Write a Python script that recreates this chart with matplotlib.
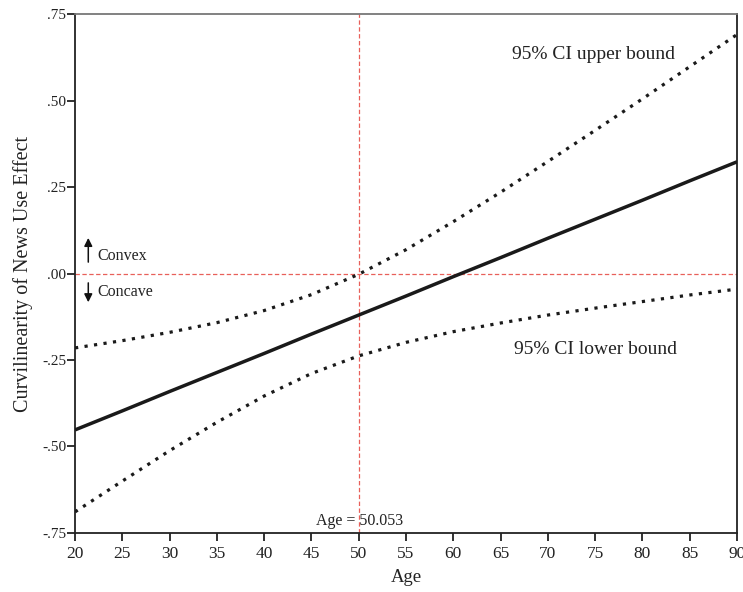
import numpy as np
import matplotlib
matplotlib.use("Agg")
import matplotlib.pyplot as plt

plt.rcParams["font.family"] = ["Liberation Serif", "DejaVu Serif"]

# ---------------------------------------------------------------------
# Data
# ---------------------------------------------------------------------
age = [20, 25, 30, 35, 40, 45, 50, 55, 60, 65, 70, 75, 80, 85, 90]
effect = [-0.452, -0.397, -0.341, -0.286, -0.231, -0.175, -0.120, -0.065,
          -0.009, 0.046, 0.102, 0.157, 0.212, 0.268, 0.323]
ci_upper = [-0.215, -0.194, -0.170, -0.142, -0.107, -0.061, -0.002, 0.069,
            0.150, 0.235, 0.324, 0.414, 0.505, 0.598, 0.691]
ci_lower = [-0.689, -0.600, -0.512, -0.430, -0.354, -0.289, -0.238, -0.199,
            -0.168, -0.143, -0.120, -0.100, -0.081, -0.062, -0.045]
jn_age = 50.053

xticks = [20, 25, 30, 35, 40, 45, 50, 55, 60, 65, 70, 75, 80, 85, 90]
yticks = [-0.75, -0.50, -0.25, 0.00, 0.25, 0.50, 0.75]
yticklabels = ["-.75", "-.50", "-.25", ".00", ".25", ".50", ".75"]

red = "#e8605a"
ink = "#222222"

fig = plt.figure(figsize=(7.43, 5.92), dpi=100)
ax = fig.add_axes([0.101, 0.0997, 0.891, 0.8765])

ax.axhline(0, color=red, lw=0.9, dashes=(3.5, 2), zorder=1)
ax.axvline(jn_age, color=red, lw=0.9, dashes=(3.5, 2), zorder=1)

ax.plot(age, effect, color="#1a1a1a", lw=2.5, solid_capstyle="butt", zorder=3)
ax.plot(age, ci_upper, color="#1a1a1a", lw=2.3, linestyle=(0, (1, 2.0)), zorder=3)
ax.plot(age, ci_lower, color="#1a1a1a", lw=2.3, linestyle=(0, (1, 2.0)), zorder=3)

ax.set_xlim(20, 90)
ax.set_ylim(-0.75, 0.75)
ax.set_xticks(xticks)
ax.set_yticks(yticks)
ax.set_yticklabels(yticklabels)
ax.tick_params(axis="both", direction="out", length=6, width=1.3,
               color=ink, labelcolor=ink)
ax.tick_params(axis="x", pad=3.5, labelsize=12.5)
ax.tick_params(axis="y", pad=0.5, labelsize=11)

for side in ["left", "bottom", "right"]:
    ax.spines[side].set_color(ink)
    ax.spines[side].set_linewidth(1.3)
ax.spines["top"].set_color("#777777")
ax.spines["top"].set_linewidth(1.3)

ax.set_xlabel("Age", fontsize=13.5, color=ink, labelpad=5)
ax.set_ylabel("Curvilinearity of News Use Effect", fontsize=14.5, color=ink)
ax.yaxis.set_label_coords(-0.064, 0.5)

ax.text(74.8, 0.632, "95% CI upper bound", fontsize=14, ha="center",
        va="center", color=ink)
ax.text(75.0, -0.221, "95% CI lower bound", fontsize=14, ha="center",
        va="center", color=ink)

ax.text(jn_age, -0.715, "Age = 50.053", fontsize=11.5, ha="center",
        va="center", color=ink)

arrow_kw = dict(arrowstyle="-|>", color="#111111", lw=1.1,
                mutation_scale=12, shrinkA=0, shrinkB=0)
ax.annotate("", xy=(21.4, 0.103), xytext=(21.4, 0.033), arrowprops=arrow_kw)
ax.annotate("", xy=(21.4, -0.083), xytext=(21.4, -0.027), arrowprops=arrow_kw)
ax.text(22.4, 0.05, "Convex", fontsize=11.5, ha="left", va="center",
        color=ink)
ax.text(22.4, -0.052, "Concave", fontsize=11.5, ha="left", va="center",
        color=ink)

fig.savefig("out.png", dpi=100)
